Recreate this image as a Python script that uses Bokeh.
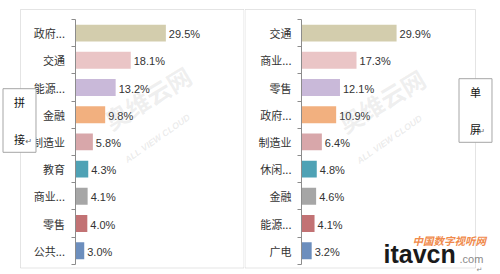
from bokeh.plotting import figure
from bokeh.models import Range1d, LinearAxis, FixedTicker, Label, ColumnDataSource, BoxAnnotation
from bokeh.layouts import row
from bokeh.embed import file_html
from bokeh.resources import INLINE
from bokeh.core.properties import value

# ---- data ----
left_categories = ["政府...", "交通", "能源...", "金融", "制造业", "教育", "商业...", "零售", "公共..."]
left_values = [29.5, 18.1, 13.2, 9.8, 5.8, 4.3, 4.1, 4.0, 3.0]
right_categories = ["交通", "商业...", "零售", "政府...", "制造业", "休闲...", "金融", "能源...", "广电"]
right_values = [29.9, 17.3, 12.1, 10.9, 6.4, 4.8, 4.6, 4.1, 3.2]
bar_colors = ["#D3CDAD", "#EAC5C6", "#C9B9D9", "#F2B07F", "#D8A7AA",
              "#4FA2B5", "#A6A6A6", "#C27274", "#6C8EBD"]
left_tag = ["拼", "接"]
right_tag = ["单", "屏"]

CJK = "Noto Sans CJK SC"
LATIN = "Liberation Sans"
H = 274
ROW_TOP_PX = 19.0
ROW_PX = 27.2
BORDER = "#A6A6A6"


def make_panel(cats, vals, width, axis_px, px_per_unit):
    x0 = -axis_px / px_per_unit
    x_range = Range1d(x0, x0 + width / px_per_unit)
    y_top = -ROW_TOP_PX / ROW_PX - 0.5
    y_bot = y_top + H / ROW_PX
    y_range = Range1d(y_bot, y_top)

    p = figure(width=width, height=H, x_range=x_range, y_range=y_range,
               output_backend="svg", toolbar_location=None,
               x_axis_type=None, y_axis_type=None,
               min_border=0)
    p.outline_line_color = None
    p.background_fill_color = "white"
    p.border_fill_color = "white"

    pos = list(range(len(cats)))
    src = ColumnDataSource(dict(
        pos=pos, val=vals, color=bar_colors[:len(cats)],
        label=[f"{v:.1f}%" for v in vals]))
    p.hbar(y="pos", left=0, right="val", height=0.62, fill_color="color",
           line_color=None, source=src)
    p.text(x="val", y="pos", text="label", x_offset=3, y_offset=1,
           text_align="left", text_baseline="middle",
           text_font=value(LATIN), text_font_size="11px",
           text_color="#333333", source=src)

    axis = LinearAxis(
        fixed_location=0,
        ticker=FixedTicker(ticks=pos, minor_ticks=[i - 0.5 for i in range(len(cats) + 1)]),
        major_label_overrides={i: c for i, c in enumerate(cats)},
        bounds=(-0.5, len(cats) - 0.5))
    axis.major_tick_out = 0
    axis.major_tick_in = 0
    axis.minor_tick_out = 4
    axis.minor_tick_in = 0
    axis.axis_line_color = "#8C8C8C"
    axis.minor_tick_line_color = "#8C8C8C"
    axis.major_label_text_font = CJK
    axis.major_label_text_font_size = "11px"
    axis.major_label_text_color = "#333333"
    axis.major_label_standoff = 6
    p.add_layout(axis, "left")
    return p


LEFT_W, RIGHT_W = 244, 256
pl = make_panel(left_categories, left_values, LEFT_W, 74.5, 3.08)
pr = make_panel(right_categories, right_values, RIGHT_W, 301 - LEFT_W, 3.18)


def panel_box(p, left, right, top, bottom):
    # canvas pixels -> frame screen units (y measured from bottom)
    p.add_layout(BoxAnnotation(left=left, right=right, top=H - top, bottom=H - bottom,
                               left_units="screen", right_units="screen",
                               top_units="screen", bottom_units="screen",
                               fill_alpha=0, line_color=BORDER, line_width=1,
                               level="underlay"))


def watermark(p, sx, sy, sx2, sy2):
    p.add_layout(Label(x=sx, y=sy, x_units="screen", y_units="screen",
                       text="奥维云网", text_font=CJK, text_font_size="24px",
                       text_font_style="bold", text_color="#9A9A9A", text_alpha=0.16,
                       angle=31, angle_units="deg", text_align="center",
                       text_baseline="middle"))
    p.add_layout(Label(x=sx2, y=sy2, x_units="screen", y_units="screen",
                       text="ALL VIEW CLOUD", text_font=LATIN, text_font_size="9px",
                       text_font_style="bold italic", text_color="#9A9A9A", text_alpha=0.2,
                       angle=35, angle_units="deg", text_align="center",
                       text_baseline="middle"))


def tag_box(p, chars, sx, sy, rx, ry):
    p.add_layout(Label(x=sx, y=sy, x_units="screen", y_units="screen",
                       text="\n".join(chars), text_font=CJK, text_font_size="11px",
                       text_color="#111111", text_align="center", text_baseline="middle",
                       text_line_height=2.35, background_fill_color="white",
                       border_line_color=BORDER,
                       padding=dict(left=11, right=11, top=5, bottom=5)))
    p.add_layout(Label(x=rx, y=ry, x_units="screen", y_units="screen",
                       text="↵", text_font="DejaVu Sans", text_font_size="8px",
                       text_color="#666666", text_align="left", text_baseline="middle"))


panel_box(pl, 20, 243.5, 9, 267.5)
panel_box(pr, 0.5, 231, 9, 267.5)
watermark(pl, 147, 177, 157, 136)
watermark(pr, 137, 174, 145, 135)
tag_box(pl, left_tag, 19, 154, 25, 133)
tag_box(pr, right_tag, 231, 164, 234, 143)

# logo
pr.add_layout(Label(x=168, y=H - 240, x_units="screen", y_units="screen",
                    text="中国数字视听网", text_font=CJK, text_font_size="10.5px",
                    text_font_style="bold italic", text_color="#F08A4B",
                    text_baseline="middle"))
pr.add_layout(Label(x=139, y=H - 253, x_units="screen", y_units="screen",
                    text="itavcn", text_font=LATIN, text_font_size="25px",
                    text_font_style="bold", text_color="#1A1A1A",
                    text_baseline="middle"))
pr.add_layout(Label(x=215, y=H - 258, x_units="screen", y_units="screen",
                    text=".com", text_font=LATIN, text_font_size="11px",
                    text_color="#8A8A8A", text_baseline="middle"))
pr.add_layout(Label(x=232, y=H - 269, x_units="screen", y_units="screen",
                    text="↵", text_font="DejaVu Sans", text_font_size="7px",
                    text_color="#888888", text_baseline="middle"))

layout = row(pl, pr, spacing=0)
open("out.html", "w").write(file_html(layout, INLINE))
